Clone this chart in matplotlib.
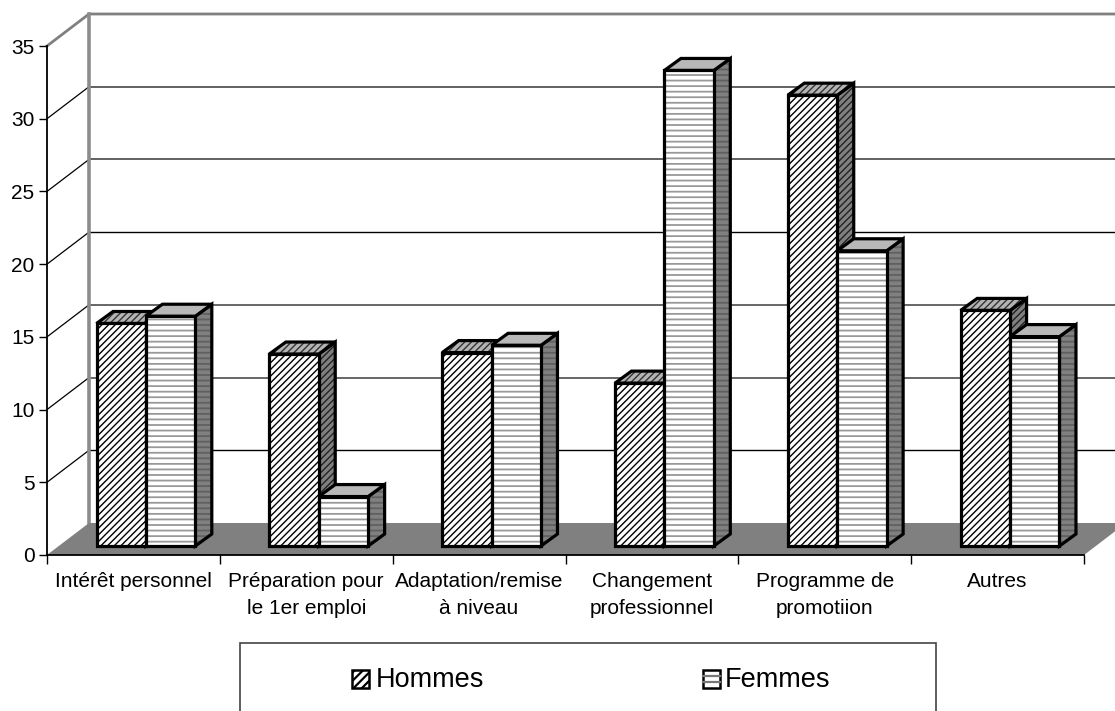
"""Grouped pseudo-3D column chart: reasons for training, Hommes vs Femmes."""

import matplotlib
matplotlib.use("Agg")
import matplotlib.pyplot as plt
from matplotlib.patches import Polygon, Rectangle

plt.rcParams["font.family"] = ["Liberation Sans", "DejaVu Sans"]

CATEGORIES = [
    "Intérêt personnel",
    "Préparation pour\nle 1er emploi",
    "Adaptation/remise\nà niveau",
    "Changement\nprofessionnel",
    "Programme de\npromotiion",
    "Autres",
]
HOMMES = [15.3, 13.2, 13.3, 11.2, 31.0, 16.2]
FEMMES = [15.8, 3.4, 13.8, 32.7, 20.3, 14.4]
Y_TICKS = [0, 5, 10, 15, 20, 25, 30, 35]
# the print-like grid alternates between soft grey and thin black lines
GRID_STYLE = {5: ("black", 1.0), 10: ("#666666", 1.4), 15: ("#666666", 1.4),
              20: ("black", 1.0), 25: ("#555555", 1.3), 30: ("#555555", 1.3)}

W, H = 1115, 711
LEFT, RIGHT, BOTTOM, TOP = 47, 1084, 555, 46

fig = plt.figure(figsize=(W / 100, H / 100), dpi=100, facecolor="white")
ax = fig.add_axes([LEFT / W, 1 - BOTTOM / H, (RIGHT - LEFT) / W, (BOTTOM - TOP) / H])
ax.set_xlim(0, 6)
ax.set_ylim(0, 35)
ax.patch.set_visible(False)

px_x = 6 / (RIGHT - LEFT)      # data units per pixel
px_y = 35 / (BOTTOM - TOP)

WALL_DX, WALL_DY = 42 * px_x, 32 * px_y
BAR_DX, BAR_DY = 16.5 * px_x, 12 * px_y
BAR_BASE = 9 * px_y
BAR_START = 49.5 * px_x
BAR_W = 49.4 * px_x

GREY = "#808080"


def poly(points, z, **kw):
    p = Polygon(points, closed=True, clip_on=False, zorder=z, **kw)
    ax.add_patch(p)
    return p


# --- walls and floor -------------------------------------------------------

poly([(0, 0), (WALL_DX, WALL_DY), (6 + WALL_DX, WALL_DY), (6, 0)], 2,
     facecolor=GREY, edgecolor="none")

for v, (color, lw) in GRID_STYLE.items():
    ax.plot([0, WALL_DX], [v, v + WALL_DY],
            color="black", lw=0.9, clip_on=False, zorder=1)
    ax.plot([WALL_DX, 6 + WALL_DX], [v + WALL_DY, v + WALL_DY],
            color=color, lw=lw, clip_on=False, zorder=1)

ax.plot([0, WALL_DX, 6 + WALL_DX], [35, 35 + WALL_DY, 35 + WALL_DY],
        color=GREY, lw=2.0, clip_on=False, zorder=1)
ax.plot([WALL_DX, WALL_DX], [WALL_DY, 35 + WALL_DY],
        color="#8c8c8c", lw=2.6, clip_on=False, zorder=1)


# --- columns ---------------------------------------------------------------

def column(x0, value, z, front_hatch, front_hatch_col, side_hatch, side_hatch_col,
           top_col, top_hatch, top_hatch_col):
    x1 = x0 + BAR_W
    y0, y1 = BAR_BASE, BAR_BASE + value
    side = [(x1, y0), (x1 + BAR_DX, y0 + BAR_DY), (x1 + BAR_DX, y1 + BAR_DY), (x1, y1)]
    top = [(x0, y1), (x0 + BAR_DX, y1 + BAR_DY), (x1 + BAR_DX, y1 + BAR_DY), (x1, y1)]
    front = [(x0, y0), (x1, y0), (x1, y1), (x0, y1)]
    for pts, face, hatch, hcol, dz in ((side, GREY, side_hatch, side_hatch_col, 0),
                                       (top, top_col, top_hatch, top_hatch_col, 0.1),
                                       (front, "white", front_hatch, front_hatch_col, 0.2)):
        poly(pts, z + dz, facecolor=face, edgecolor="none")
        if hatch:
            poly(pts, z + dz + 0.01, facecolor="none", edgecolor=hcol, hatch=hatch, lw=0)
        poly(pts, z + dz + 0.02, facecolor="none", edgecolor="black", lw=2.3, joinstyle="miter")


for i, (h, f) in enumerate(zip(HOMMES, FEMMES)):
    x0 = i + BAR_START
    plt.rcParams["hatch.linewidth"] = 1.0
    column(x0, h, 3 + i, "/////", "black", "/////", "#222222", "#b4b4b4", "/////", "#333333")
    plt.rcParams["hatch.linewidth"] = 1.3
    column(x0 + BAR_W, f, 3.5 + i, "---", "#999999", "---", "#606060", "#b8b8b8", None, None)


# --- axes ------------------------------------------------------------------

for name in ("top", "right"):
    ax.spines[name].set_visible(False)
for name in ("left", "bottom"):
    ax.spines[name].set_linewidth(1.3)
    ax.spines[name].set_zorder(2.5)

ax.set_yticks(Y_TICKS)
ax.set_xticks(range(7))
ax.set_xticklabels([])
ax.set_xticks([i + 0.5 for i in range(6)], minor=True)
ax.set_xticklabels(CATEGORIES, minor=True, fontsize=15, linespacing=1.5)
ax.tick_params(axis="x", which="major", length=6.5, width=1.0, direction="out")
ax.tick_params(axis="x", which="minor", length=0, pad=12.5)
ax.tick_params(axis="y", length=6, width=1.0, labelsize=15, pad=3)


# --- legend box, open at the bottom edge of the figure -----------------------

fig.add_artist(Rectangle((240 / W, -0.02), 696 / W, 1 - 643 / H + 0.02, transform=fig.transFigure,
                         facecolor="white", edgecolor="#444444", lw=1.2))
plt.rcParams["hatch.linewidth"] = 1.6
fig.add_artist(Rectangle((352 / W, 1 - 688 / H), 17 / W, 18 / H, transform=fig.transFigure,
                         facecolor="white", edgecolor="black", hatch="////", lw=1.8))
fig.add_artist(Rectangle((703 / W, 1 - 688 / H), 17 / W, 18 / H, transform=fig.transFigure,
                         facecolor="white", edgecolor="black", lw=1.8))
for frac in (1 / 3, 2 / 3):
    fig.add_artist(plt.Line2D([703 / W, 720 / W], [1 - (688 - 18 * frac) / H] * 2,
                              color="#777777", lw=1.6))
fig.text(376 / W, 1 - 680 / H, "Hommes", fontsize=19.5, va="center", ha="left")
fig.text(725 / W, 1 - 680 / H, "Femmes", fontsize=19.5, va="center", ha="left")

fig.savefig("out.png", dpi=100)
